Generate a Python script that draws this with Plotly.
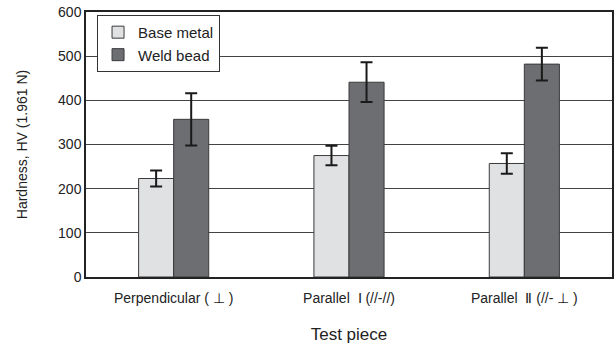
import plotly.graph_objects as go

categories = ["Perpendicular ( ⊥ )", "Parallel  Ⅰ (//-//)", "Parallel  Ⅱ (//- ⊥ )"]
base_metal = [223, 275, 257]
base_err = [18, 22, 23]
weld_bead = [357, 441, 482]
weld_err = [59, 45, 37]
y_ticks = [0, 100, 200, 300, 400, 500, 600]

fig = go.Figure()
fig.add_trace(go.Bar(
    x=categories, y=base_metal, name="Base metal",
    marker=dict(color="#e0e1e3", line=dict(color="#3a3a3a", width=1)),
    error_y=dict(type="data", array=base_err, color="#1a1a1a", thickness=2, width=6),
))
fig.add_trace(go.Bar(
    x=categories, y=weld_bead, name="Weld bead",
    marker=dict(color="#6d6e71", line=dict(color="#3a3a3a", width=1)),
    error_y=dict(type="data", array=weld_err, color="#1a1a1a", thickness=2, width=6),
))

fig.update_layout(
    width=615, height=347,
    margin=dict(l=86, r=1, t=12, b=70),
    paper_bgcolor="white", plot_bgcolor="white",
    barmode="group", bargap=0.6, bargroupgap=0,
    font=dict(family="Liberation Sans, Arial, sans-serif", color="#222", size=14),
    legend=dict(
        x=0.021, y=0.989, xanchor="left", yanchor="top",
        bgcolor="white", bordercolor="#333", borderwidth=1,
        font=dict(size=15),
    ),
    xaxis=dict(
        showline=True, linecolor="#222", linewidth=1.5, mirror=True,
        ticks="", tickfont=dict(size=14), ticklabelstandoff=7,
        title=dict(text="Test piece", font=dict(size=17), standoff=24),
    ),
    yaxis=dict(
        range=[0, 600], tickvals=y_ticks, showgrid=True, gridcolor="#444", gridwidth=1,
        showline=True, linecolor="#222", linewidth=1.5, mirror=True,
        ticks="", tickfont=dict(size=14), zeroline=False,
        title=dict(text="Hardness, HV (1.961 N)", font=dict(size=14), standoff=27),
    ),
)

fig.write_html("out.html", config={"displayModeBar": False},
               post_script="document.body.style.margin='0';")
